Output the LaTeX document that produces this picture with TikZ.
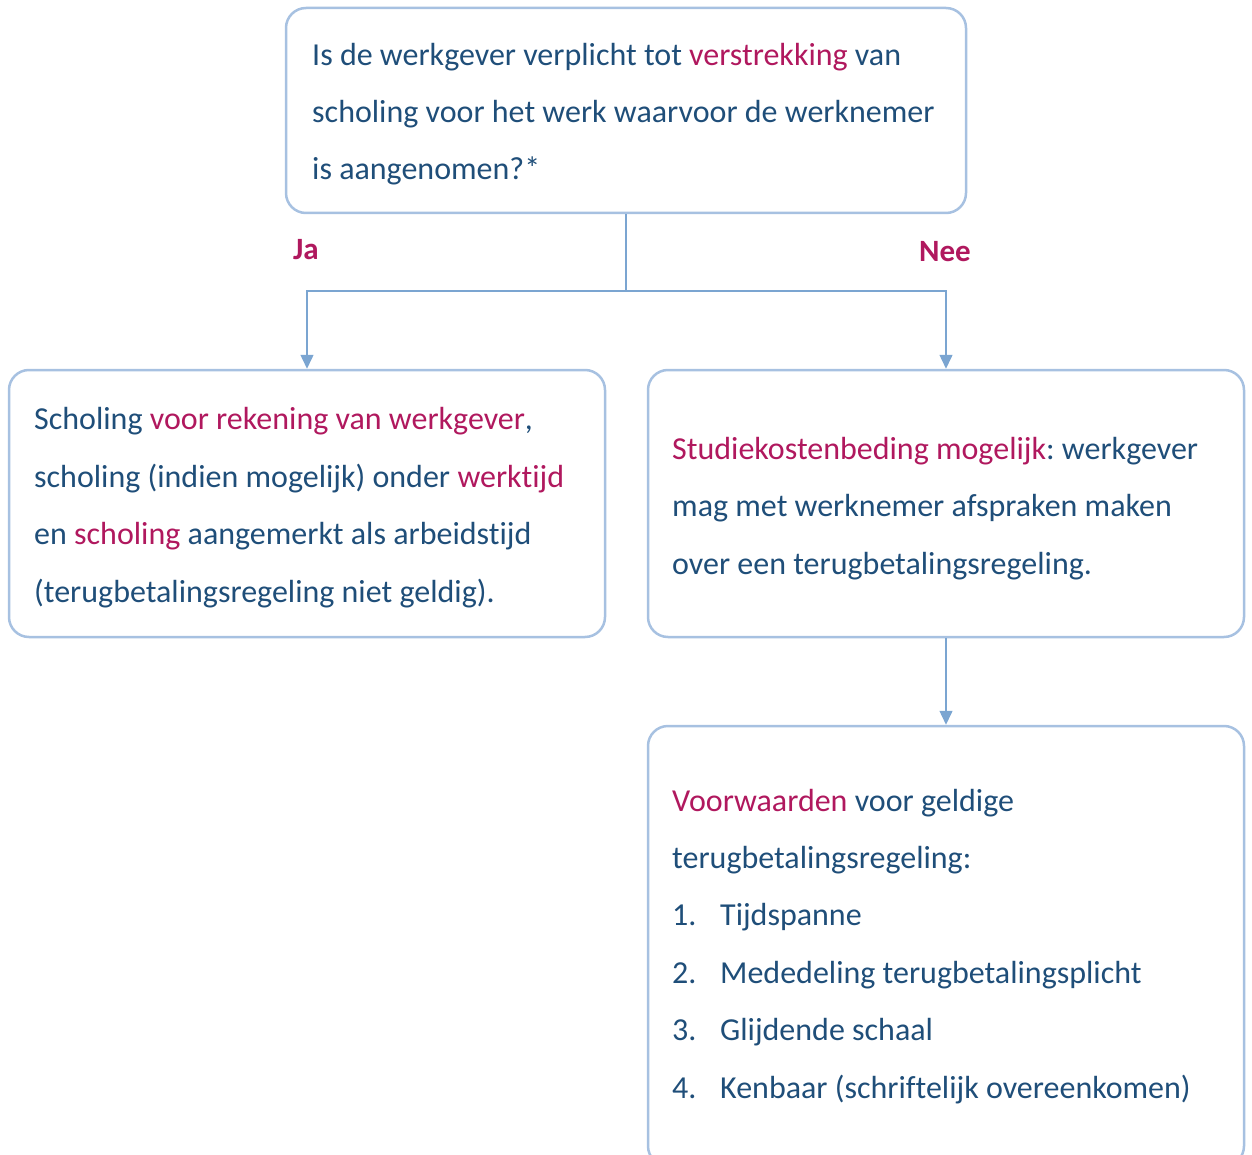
\documentclass[tikz,border=0pt]{standalone}
\usepackage{fontspec}
\setmainfont{Carlito}[Ligatures={NoCommon}]
\usetikzlibrary{arrows.meta}
\definecolor{navy}{HTML}{1F4E79}
\definecolor{mag}{HTML}{B0185E}
\definecolor{boxline}{HTML}{A7C1E1}
\definecolor{connline}{HTML}{7BA5D1}
\newcommand{\hl}[1]{\textcolor{mag}{#1}}
\newcommand{\itm}[2]{\makebox[48pt][l]{#1}#2}
\frenchspacing
\tikzset{
  box/.style={draw=boxline, line width=2.5pt, rounded corners=20pt, inner sep=0pt},
  txt/.style={anchor=base west, align=left, inner sep=0pt, text=navy,
    font=\fontsize{32}{57.4}\selectfont\frenchspacing},
  conn/.style={draw=connline, line width=1.5pt},
  arr/.style={conn, -{Triangle[width=13pt,length=14pt]}},
  lbl/.style={text=mag, inner sep=0pt, font=\fontsize{31}{36}\selectfont\bfseries},
}
\begin{document}
\begin{tikzpicture}[x=1pt,y=-1pt]
\clip (0,0) rectangle (1252,1155);
\useasboundingbox (0,0) rectangle (1252,1155);
% boxes
\node[box, minimum width=680pt, minimum height=205pt] (top) at (626,110.5) {};
\node[box, minimum width=596pt, minimum height=267pt] (left) at (307,503.5) {};
\node[box, minimum width=596pt, minimum height=267pt] (right) at (946,503.5) {};
\node[box, minimum width=596pt, minimum height=440pt] (bottom) at (946,946) {};
% texts (anchor = baseline of last line)
\node[txt] (ttop) at (312,180) {Is de werkgever verplicht tot \hl{verstrekking} van\\
scholing voor het werk waarvoor de werknemer\\
is aangenomen?*};
\node[txt] (tleft) at (34,602) {Scholing \hl{voor rekening van werkgever},\\
scholing (indien mogelijk) onder \hl{werktijd}\\
en \hl{scholing} aangemerkt als arbeidstijd\\
(terugbetalingsregeling niet geldig).};
\node[txt] (tright) at (672,574) {\hl{Studiekostenbeding mogelijk}: werkgever\\
mag met werknemer afspraken maken\\
over een terugbetalingsregeling.};
\node[txt] (tbottom) at (672,1098) {\hl{Voorwaarden} voor geldige\\
terugbetalingsregeling:\\
\itm{1.}{Tijdspanne}\\
\itm{2.}{Mededeling terugbetalingsplicht}\\
\itm{3.}{Glijdende schaal}\\
\itm{4.}{Kenbaar (schriftelijk overeenkomen)}};
% connectors
\coordinate (split) at (626,291);
\draw[conn] (top.south) -- (split);
\draw[arr] (split) -| (left.north);
\draw[arr] (split) -| (right.north);
\draw[arr] (right.south) -- (bottom.north);
% labels
\node[lbl] (ja) at (306,250) {Ja};
\node[lbl] (nee) at (945,252) {Nee};
\end{tikzpicture}
\end{document}
